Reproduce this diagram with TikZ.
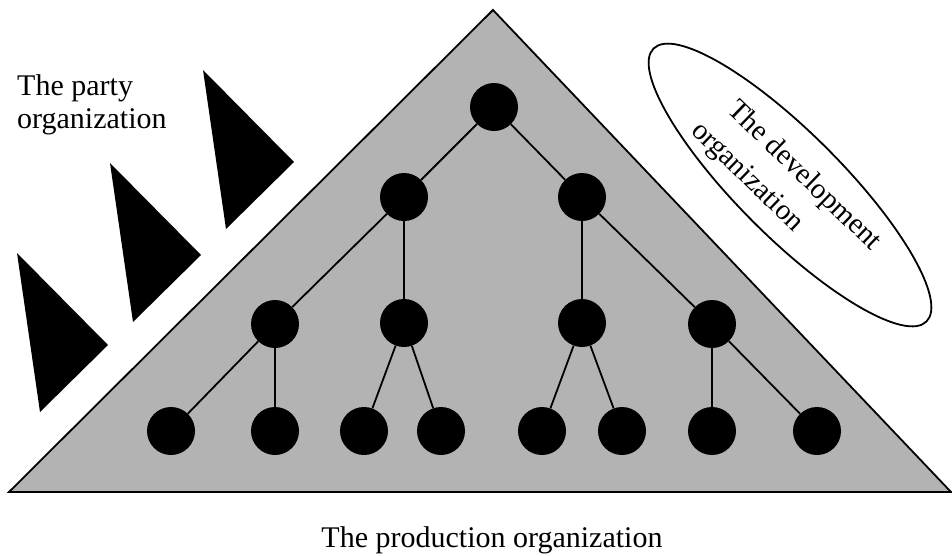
\documentclass[tikz,border=0pt]{standalone}
\usepackage{fontspec}
\setmainfont{Liberation Serif}
\usetikzlibrary{shapes.geometric}
\definecolor{pyrgray}{RGB}{179,179,179}
\begin{document}
\begin{tikzpicture}[x=1pt,y=-1pt,
  unit/.style={circle,fill=black,minimum size=48pt,inner sep=0pt},
  tie/.style={line width=1.8pt},
  lbl/.style={font=\fontsize{30}{33}\selectfont,inner sep=0pt},
  dlbl/.style={font=\fontsize{29}{33}\selectfont,inner sep=0pt,rotate=-44,anchor=base west},
  flag/.style={fill=black}]
\useasboundingbox (0,0) rectangle (952,555);
% production pyramid
\coordinate (pl) at (9,492);
\coordinate (pt) at (493,10);
\coordinate (pr) at (951,492);
\draw[line width=1.8pt,fill=pyrgray,line join=miter] (pl) -- (pt) -- (pr) -- cycle;
% party flags
\fill[flag] (17,253) -- (108,345) -- (40,412) -- cycle;
\fill[flag] (110,163) -- (201,255) -- (133,322) -- cycle;
\fill[flag] (203,70) -- (294,162) -- (226,229) -- cycle;
% development ellipse
\node[draw,ellipse,line width=1.8pt,rotate=-45,minimum width=386pt,minimum height=104pt,inner sep=0pt] (dev) at (790,185) {};
\node[dlbl] (dev1) at (726,111) {The development};
\node[dlbl] (dev2) at (690,132) {organization};
% hierarchy
\node[unit] (r) at (494,107) {};
\node[unit] (a) at (404,197) {};
\node[unit] (b) at (582,197) {};
\node[unit] (c) at (275,324) {};
\node[unit] (d) at (404,323) {};
\node[unit] (e) at (582,323) {};
\node[unit] (f) at (712,324) {};
\node[unit] (g) at (171,431) {};
\node[unit] (h) at (275,431) {};
\node[unit] (i) at (364,431) {};
\node[unit] (j) at (441,431) {};
\node[unit] (k) at (542,431) {};
\node[unit] (l) at (622,431) {};
\node[unit] (m) at (712,431) {};
\node[unit] (n) at (817,431) {};
\draw[tie] (r) -- (a);
\draw[tie] (r) -- (b);
\draw[tie] (a) -- (c);
\draw[tie] (a) -- (d);
\draw[tie] (b) -- (e);
\draw[tie] (b) -- (f);
\draw[tie] (c) -- (g);
\draw[tie] (c) -- (h);
\draw[tie] (d) -- (i);
\draw[tie] (d) -- (j);
\draw[tie] (e) -- (k);
\draw[tie] (e) -- (l);
\draw[tie] (f) -- (m);
\draw[tie] (f) -- (n);
% labels
\node[lbl,anchor=base west] (party1) at (17,95) {The party};
\node[lbl,anchor=base west] (party2) at (17,128) {organization};
\node[lbl,anchor=base] (prod) at (492,547) {The production organization};
\end{tikzpicture}
\end{document}
